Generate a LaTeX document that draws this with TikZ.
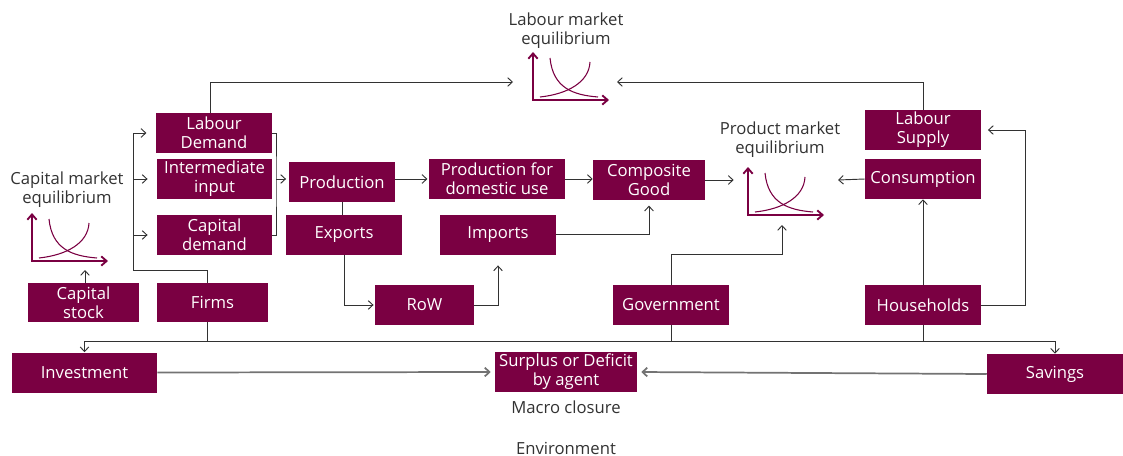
\documentclass[tikz,border=0pt]{standalone}
\usepackage{fontspec}
\setmainfont{Open Sans}
\usepackage{xcolor}
\usepackage{tikz}
\usetikzlibrary{positioning, arrows.meta}

\definecolor{claret}{RGB}{122,0,66}
\definecolor{inkgray}{RGB}{50,50,50}

\tikzset{
  box/.style={fill=claret, text=white, align=center, inner sep=0pt,
    minimum height=30pt, font=\fontsize{12.5}{14.25}\selectfont},
  note/.style={text=inkgray, align=center, inner sep=0pt,
    font=\fontsize{12.5}{14.25}\selectfont},
  link/.style={draw=inkgray, line width=0.7pt},
  flow/.style={link, -{Straight Barb[length=3.5pt,width=6.5pt]}},
  closure/.style={draw=gray!90!black, line width=1.3pt,
    -{Straight Barb[length=3.5pt,width=6.5pt]}},
  eqchart/.pic={
    \draw[claret, line width=1.4pt,
      {Straight Barb[length=4pt,width=7pt]}-{Straight Barb[length=4pt,width=7pt]}]
      (0,-48) -- (0,0) -- (76,0);
    \draw[claret, line width=0.8pt] (17,-42) .. controls (20,-12) and (40,-5) .. (65,-3);
    \draw[claret, line width=0.8pt] (7,-3) .. controls (35,-6) and (56,-18) .. (57,-38);
  }
}

\begin{document}
\begin{tikzpicture}[x=0.75pt, y=-0.75pt]
  \useasboundingbox (0,0) rectangle (1123,456);

  % markets
  \node[note] (lablbl) at (566,31) {Labour market\\equilibrium};
  \pic at (533,100) {eqchart};
  \coordinate (labL) at (513,82);
  \coordinate (labR) at (617,82);

  \node[note] (caplbl) at (67,190) {Capital market\\equilibrium};
  \pic at (32,261) {eqchart};
  \coordinate (capB) at (85,270);

  \node[note] (prodlbl) at (780,140) {Product market\\equilibrium};
  \pic at (748,215) {eqchart};
  \coordinate (prodL) at (735,180);
  \coordinate (prodR) at (838,180);
  \coordinate (prodB) at (782,225);

  % firms side
  \node[box, minimum width=87pt] (labdem) at (214,133) {Labour\\Demand};
  \node[box, minimum width=86pt] (interm) at (214.5,179) {Intermediate\\input};
  \node[box, minimum width=86pt] (capdem) at (214.5,235) {Capital\\demand};
  \node[box, minimum width=83pt, minimum height=29pt] (capstock) at (83.5,302.5) {Capital\\stock};
  \node[box, minimum width=83pt, minimum height=29pt] (firms) at (212.5,302.5) {Firms};

  % goods
  \node[box, minimum width=79.5pt] (prod) at (342,182) {Production};
  \node[box, minimum width=87pt] (exports) at (344,235) {Exports};
  \node[box, minimum width=102pt] (proddom) at (497,179) {Production for\\domestic use};
  \node[box, minimum width=87pt] (imports) at (498,234.5) {Imports};
  \node[box, minimum width=74pt] (row) at (424.5,305) {RoW};
  \node[box, minimum width=84pt] (compgood) at (649,180) {Composite\\Good};
  \node[box, minimum width=87pt] (govt) at (671,305) {Government};

  % households side
  \node[box, minimum width=87pt] (labsup) at (923,130) {Labour\\Supply};
  \node[box, minimum width=87pt] (consum) at (923,179) {Consumption};
  \node[box, minimum width=87pt] (house) at (923,305) {Households};

  % macro closure
  \node[box, minimum width=109pt] (invest) at (84.5,372.5) {Investment};
  \node[box, minimum width=106.5pt] (surplus) at (566,372) {Surplus or Deficit\\by agent};
  \node[box, minimum width=102pt] (savings) at (1055,374) {Savings};
  \node[note] (macro) at (566,407) {Macro closure};
  \node[note] (env) at (566,448) {Environment};

  % labour market
  \draw[flow] ([xshift=-3pt]labdem.north) |- (labL);
  \draw[flow] (labsup.north) |- (labR);
  \draw[flow] (capstock.north -| capB) -- (capB);

  % firms to demands
  \coordinate (fork) at (133,270);
  \draw[link] ([xshift=-4pt]firms.north) |- (fork);
  \draw[flow, shorten >=7pt] (fork) |- (labdem.west);
  \draw[flow, shorten >=7pt] (fork) |- (interm.west);
  \draw[flow, shorten >=7pt] (fork) |- (capdem.west);

  % demands into production
  \coordinate (join) at (276,179);
  \draw[link] (labdem.east) -| (join) |- (capdem.east);
  \draw[flow, shorten >=2pt] (join) -- (join -| prod.west);
  \draw[flow, shorten >=1pt] (prod.east |- proddom.west) -- (proddom.west);
  \draw[flow] (proddom.east) -- (compgood.west |- proddom.east);
  \draw[flow, shorten >=1pt] (compgood.east) -- (prodL);
  \draw[flow] (consum.west) -- (prodR);

  % trade
  \draw[link] (prod.south) -- (prod.south |- exports.north);
  \draw[flow, shorten >=1pt] (exports.south) |- (row.west);
  \draw[flow, shorten >=8pt] (row.east) -| (imports.south);
  \draw[flow, shorten >=4pt] (imports.east) -| (compgood.south);

  % government and households
  \draw[flow] (govt.north) -- ++(0,-30) -| (prodB);
  \draw[flow] (house.north) -- (consum.south);
  \draw[flow, shorten >=5pt] (house.east) -- ++(44,0) |- (labsup.east);

  % savings and investment
  \coordinate (bus) at (566,341);
  \draw[flow] (bus -| house.south) -| (savings.north);
  \draw[flow] (bus -| house.south) -| (invest.north);
  \draw[link] ([xshift=-4pt]firms.south) -- ([xshift=-4pt]firms.south |- bus);
  \draw[link] (govt.south) -- (govt.south |- bus);
  \draw[link] (house.south) -- (house.south |- bus);
  \draw[closure, shorten >=3pt] (invest.east) -- (surplus.west);
  \draw[closure, shorten >=3pt] (savings.west) -- (surplus.east);
\end{tikzpicture}
\end{document}
